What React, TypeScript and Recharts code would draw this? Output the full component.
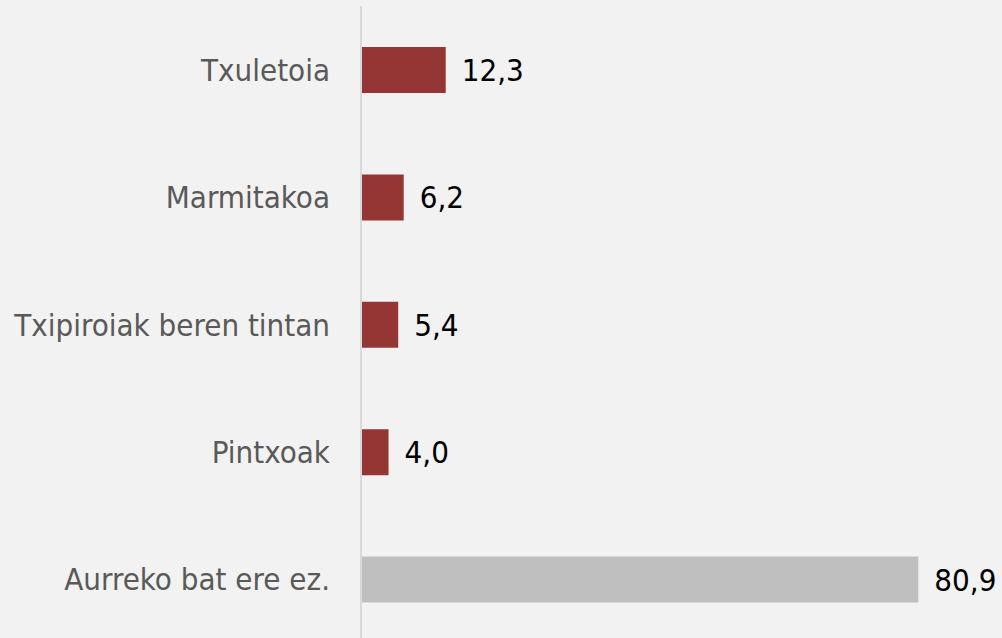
import React from 'react';
import { BarChart, Bar, XAxis, YAxis, Cell, LabelList } from 'recharts';

const categories = ['Txuletoia', 'Marmitakoa', 'Txipiroiak beren tintan', 'Pintxoak', 'Aurreko bat ere ez.'];
const values = [12.3, 6.2, 5.4, 4.0, 80.9];
const barColors = ['#943634', '#943634', '#943634', '#943634', '#bfbfbf'];

const data = categories.map((name, i) => ({ name, value: values[i] }));

const FONT = "'DejaVu Sans Condensed', 'DejaVu Sans', sans-serif";

export default function App() {
  return (
    <div style={{ position: 'absolute', left: 0, top: 0, width: 1002, height: 638, overflow: 'hidden', background: '#f2f2f2' }}>
      <BarChart
        width={1002}
        height={643}
        data={data}
        layout="vertical"
        margin={{ top: 6, right: 21, bottom: 0, left: 0 }}
        barCategoryGap={0}
      >
        <XAxis type="number" domain={[0, 90]} hide />
        <YAxis
          type="category"
          dataKey="name"
          width={361}
          axisLine={{ stroke: '#d9d9d9', strokeWidth: 2 }}
          tickLine={false}
          tickMargin={25}
          tick={{ fill: '#595959', fontSize: 31, fontFamily: FONT }}
          interval={0}
        />
        <Bar dataKey="value" barSize={46} isAnimationActive={false}>
          {data.map((d, i) => (
            <Cell key={d.name} fill={barColors[i]} />
          ))}
          <LabelList
            dataKey="value"
            position="right"
            offset={16}
            formatter={(v: number) => v.toFixed(1).replace('.', ',')}
            style={{ fill: '#000000', fontSize: 31, fontFamily: FONT }}
          />
        </Bar>
      </BarChart>
    </div>
  );
}
